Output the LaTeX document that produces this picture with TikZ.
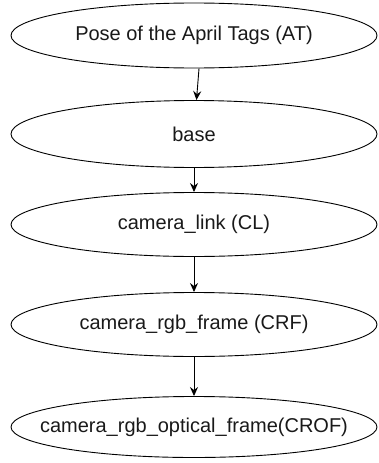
\documentclass[tikz,border=0pt]{standalone}
\usepackage{fontspec}
\setmainfont{Liberation Sans}
\usetikzlibrary{shapes.geometric,arrows.meta}
\begin{document}
\begin{tikzpicture}[x=1pt,y=-1pt,
  frame/.style={ellipse,draw=black,line width=0.9pt,minimum width=366pt,minimum height=64pt,inner sep=0pt,
    label={[font=\fontsize{20}{23}\selectfont,text=black!90,inner sep=0pt]center:#1}},
  link/.style={draw=black,line width=0.9pt,-{Stealth[length=9pt,width=8pt,inset=3pt]}}]
\useasboundingbox (0,0) rectangle (379,463);
\node[frame={Pose of the April Tags (AT)},minimum height=65pt] (at) at (194,35.5) {};
\node[frame={base},minimum height=67pt] (base) at (194,134) {};
\node[frame={camera\_link (CL)}] (cl) at (194,224.5) {};
\node[frame={camera\_rgb\_frame (CRF)}] (crf) at (194,324.5) {};
\node[frame={camera\_rgb\_optical\_frame(CROF)},minimum height=61pt] (crof) at (194,427) {};
\draw[link] ([xshift=5pt]at.south) -- ([xshift=2.5pt]base.north);
\draw[link] (base) -- (cl);
\draw[link] (cl) -- (crf);
\draw[link] (crf) -- (crof);
\end{tikzpicture}
\end{document}
